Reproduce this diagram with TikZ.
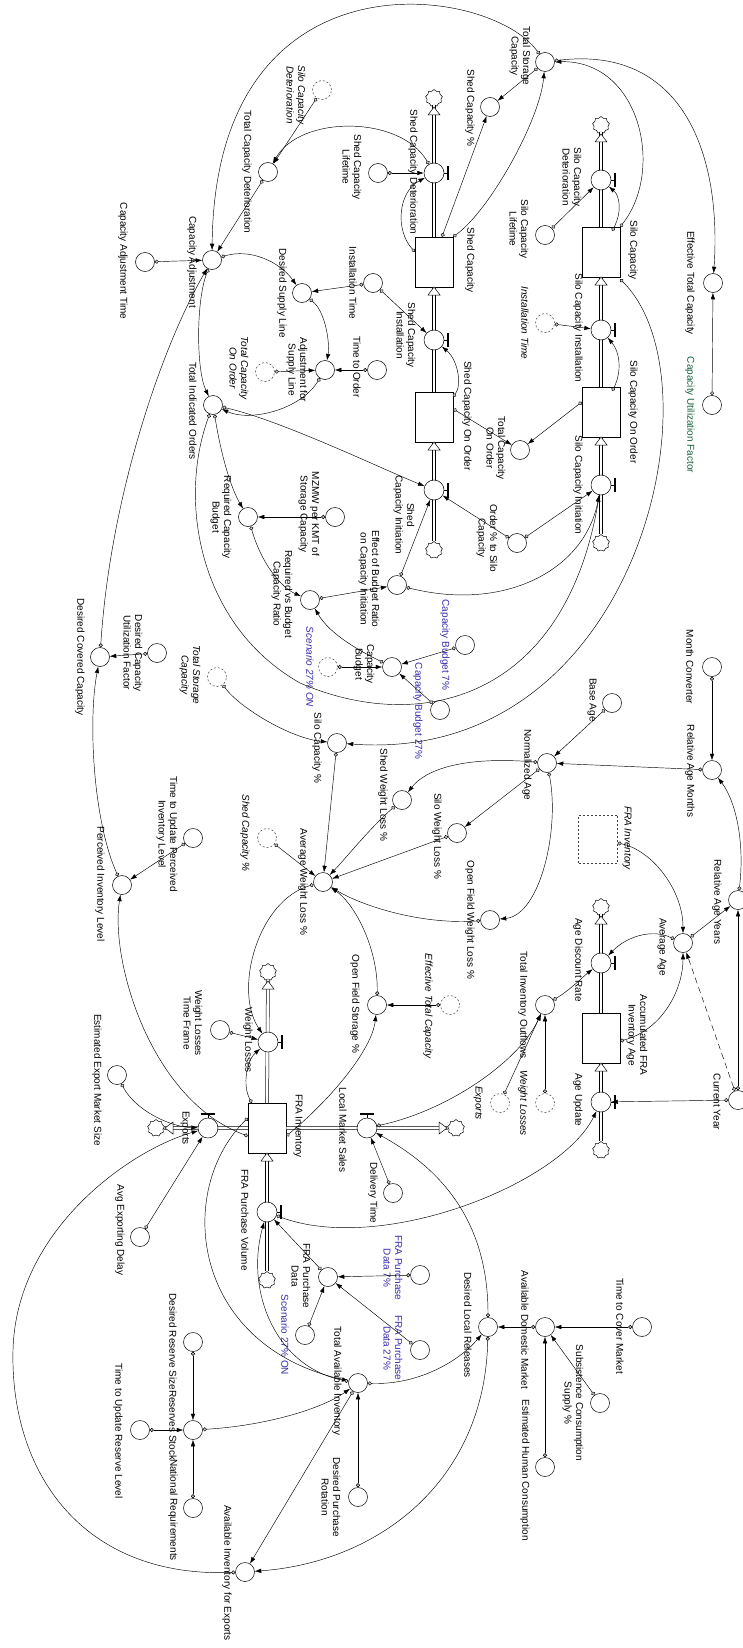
\documentclass[tikz,border=0pt]{standalone}
\usepackage{fontspec}
\setmainfont{Liberation Sans}
\usetikzlibrary{arrows.meta,shapes.symbols,backgrounds,calc}
\definecolor{lblue}{RGB}{55,45,170}
\definecolor{lgreen}{RGB}{20,100,60}
\newcommand{\lblfont}{\fontsize{10}{11.5}\selectfont}
\tikzset{
 aux/.style={circle,draw,minimum size=19pt,inner sep=0pt,fill=white,line width=0.5pt},
 shd/.style={circle,draw=black!75,dashed,dash pattern=on 2pt off 2pt,minimum size=19pt,inner sep=0pt,fill=white,line width=0.5pt},
 valve/.style={circle,draw,minimum size=20pt,inner sep=0pt,fill=white,line width=0.5pt},
 stock/.style={rectangle,draw,minimum width=38pt,minimum height=50pt,inner sep=0pt,fill=white,line width=0.5pt},
 cld/.style={cloud,cloud puffs=9,draw,minimum width=17pt,minimum height=17pt,aspect=1,inner sep=0pt,fill=white,line width=0.5pt},
 lbl/.style={rotate=-90,align=center,font=\lblfont,inner sep=0pt},
 bl/.style={lbl,text=lblue},
 it/.style={lbl,font=\lblfont\itshape},
 lnk/.style={{Circle[length=4pt,width=4pt,fill=gray!45]}-{Latex[length=6.5pt,width=4.5pt]},line width=0.45pt},
 pipe/.style={draw,double=white,double distance=2.6pt,line width=0.5pt},
 harrow/.pic={\draw[fill=white,line width=0.5pt] (0,0) -- (-8,-6) -- (-8,6) -- cycle;},
 vhandle/.pic={\draw[line width=0.5pt] (10,0) -- (13,0); \draw[line width=1.6pt] (14,-7) -- (14,7);},
 hhandle/.pic={\draw[line width=0.5pt] (0,-10) -- (0,-13); \draw[line width=1.6pt] (-7,-14) -- (7,-14);},
}
\begin{document}
\begin{tikzpicture}[x=1pt,y=-1pt]
\useasboundingbox[fill=white] (0,0) rectangle (743,1648);
% ---------------- stocks and clouds
\node[stock] (shedcap) at (434,262) {};
\node[stock] (shedoo) at (434,417) {};
\node[stock] (silocap) at (601,252) {};
\node[stock] (silooo) at (601,412) {};
\node[stock] (frainv) at (267,1128) {};
\node[stock] (afia) at (601,1038) {};
\node[cld] (c1) at (434,98) {};
\node[cld] (c2) at (434,550) {};
\node[cld] (c3) at (601,125) {};
\node[cld] (c4) at (601,543) {};
\node[cld] (c5) at (268,972) {};
\node[cld] (c6) at (456,1128) {};
\node[cld] (c7) at (156,1128) {};
\node[cld] (c8) at (267,1280) {};
\node[cld] (c9) at (601,907) {};
\node[cld] (c10) at (601,1150) {};
% ---------------- pipes
\draw[pipe] (shedcap.north) -- (c1.south);
\draw[pipe] (shedoo.north) -- (shedcap.south);
\draw[pipe] (c2.north) -- (shedoo.south);
\draw[pipe] (silocap.north) -- (c3.south);
\draw[pipe] (silooo.north) -- (silocap.south);
\draw[pipe] (c4.north) -- (silooo.south);
\draw[pipe] (frainv.north) -- (c5.south);
\draw[pipe] (frainv.east) -- (c6.west);
\draw[pipe] (frainv.west) -- (c7.east);
\draw[pipe] (c8.north) -- (frainv.south);
\draw[pipe] (afia.north) -- (c9.south);
\draw[pipe] (c10.north) -- (afia.south);
\pic[rotate=90] at (434,107) {harrow};
\pic[rotate=90] at (434,287) {harrow};
\pic[rotate=90] at (434,442) {harrow};
\pic[rotate=90] at (601,134) {harrow};
\pic[rotate=90] at (601,277) {harrow};
\pic[rotate=90] at (601,437) {harrow};
\pic[rotate=90] at (268,981) {harrow};
\pic at (447,1128) {harrow};
\pic[rotate=180] at (165,1128) {harrow};
\pic[rotate=90] at (267,1153) {harrow};
\pic[rotate=90] at (601,916) {harrow};
\pic[rotate=90] at (601,1063) {harrow};
% ---------------- valves
\node[valve] (vsheddet) at (434,173) {}; \pic at (434,173) {vhandle};
\node[valve] (vshedinst) at (434,340) {}; \pic at (434,340) {vhandle};
\node[valve] (vshedinit) at (434,490) {}; \pic at (434,490) {vhandle};
\node[valve] (vsilodet) at (601,180) {}; \pic at (601,180) {vhandle};
\node[valve] (vsiloinst) at (601,330) {}; \pic at (601,330) {vhandle};
\node[valve] (vsiloinit) at (601,485) {}; \pic at (601,485) {vhandle};
\node[valve] (vwl) at (268,1042) {}; \pic at (268,1042) {vhandle};
\node[valve] (vlms) at (367,1128) {}; \pic at (367,1128) {hhandle};
\node[valve] (vexp) at (208,1128) {}; \pic at (208,1128) {hhandle};
\node[valve] (vfrapv) at (267,1212) {}; \pic at (267,1212) {vhandle};
\node[valve] (vadr) at (601,963) {}; \pic at (601,963) {vhandle};
\node[valve] (vau) at (601,1102) {}; \pic at (601,1102) {vhandle};
% ---------------- auxiliaries
\node[aux] (tsc) at (545,62) {};
\node[aux] (shedpct) at (490,107) {};
\node[aux] (etc) at (713,283) {};
\node[aux] (cuf) at (712,405) {};
\node[aux] (tcd) at (268,172) {};
\node[shd] (silodetsh) at (322,90) {};
\node[aux] (scl) at (378,173) {};
\node[aux] (capadj) at (212,260) {};
\node[aux] (cat) at (145,262) {};
\node[aux] (inst) at (373,283) {};
\node[aux] (dsl) at (302,293) {};
\node[aux] (afsl) at (325,370) {};
\node[aux] (tto) at (377,370) {};
\node[shd] (tcoosh) at (265,372) {};
\node[aux] (tio) at (213,405) {};
\node[aux] (tcoo) at (520,450) {};
\node[aux] (ordpct) at (517,543) {};
\node[aux] (silolife) at (545,235) {};
\node[shd] (instsh) at (545,323) {};
\node[aux] (rcb) at (248,517) {};
\node[aux] (mzmw) at (335,517) {};
\node[aux] (rvb) at (310,600) {};
\node[aux] (ebr) at (397,585) {};
\node[aux] (cb) at (392,667) {};
\node[aux] (cbs) at (465,645) {};
\node[aux] (cbt) at (440,710) {};
\node[shd] (scena) at (328,667) {};
\node[shd] (tscsh) at (217,677) {};
\node[aux] (silopct) at (337,743) {};
\node[aux] (dcuf) at (157,653) {};
\node[aux] (dcc) at (100,657) {};
\node[aux] (tup) at (193,838) {};
\node[aux] (pil) at (122,885) {};
\node[aux] (shedwl) at (402,800) {};
\node[aux] (silowl) at (457,833) {};
\node[shd] (shedpctsh) at (267,838) {};
\node[aux] (awl) at (323,882) {};
\node[aux] (ofwl) at (490,920) {};
\node[aux] (ofs) at (377,1005) {};
\node[shd] (etcsh) at (450,1005) {};
\node[aux] (monthc) at (712,667) {};
\node[aux] (ram) at (712,770) {};
\node[aux] (baseage) at (612,703) {};
\node[aux] (normage) at (547,763) {};
\node[rectangle,draw=black!75,dashed,dash pattern=on 2pt off 2pt,minimum width=39pt,minimum height=48pt,inner sep=0pt] (frainvsh) at (598,839) {};
\node[aux] (avgage) at (683,943) {};
\node[aux] (ray) at (738,900) {};
\node[aux] (curyear) at (738,1100) {};
\node[aux] (tio2) at (545,1005) {};
\node[shd] (expsh) at (500,1103) {};
\node[shd] (wlsh) at (545,1103) {};
\node[aux] (wltf) at (220,1030) {};
\node[aux] (eems) at (117,1075) {};
\node[aux] (aed) at (140,1237) {};
\node[aux] (dt) at (393,1193) {};
\node[aux] (frapd) at (328,1277) {};
\node[aux] (frapds) at (420,1275) {};
\node[aux] (frapdt) at (420,1350) {};
\node[aux] (scenb) at (305,1335) {};
\node[aux] (tai) at (358,1383) {};
\node[aux] (dlr) at (488,1327) {};
\node[aux] (dpr) at (358,1497) {};
\node[aux] (adm) at (545,1327) {};
\node[aux] (tcm) at (642,1327) {};
\node[aux] (scs) at (600,1403) {};
\node[aux] (ehc) at (545,1467) {};
\node[aux] (drs) at (193,1342) {};
\node[aux] (rs) at (193,1430) {};
\node[aux] (nr) at (193,1508) {};
\node[aux] (turl) at (140,1430) {};
\node[aux] (aie) at (245,1572) {};
% ---------------- labels
\node[lbl] (t1) at (520,56) {Total Storage\\Capacity};
\node[lbl] (t2) at (470,108) {Shed Capacity \%};
\node[lbl] (t3) at (690,283) {Effective Total Capacity};
\node[lbl,text=lgreen] (t4) at (690,415) {Capacity Utilization Factor};
\node[lbl] (t5) at (247,172) {Total Capacity Deterioration};
\node[it] (t6) at (296,95) {Silo Capacity\\Deterioration};
\node[lbl] (t7) at (352,167) {Shed Capacity\\Lifetime};
\node[lbl] (t8) at (192,262) {Capacity Adjustment};
\node[lbl] (t9) at (123,261) {Capacity Adjustment Time};
\node[lbl] (t10) at (353,283) {Installation Time};
\node[lbl] (t11) at (282,293) {Desired Supply Line};
\node[lbl] (t12) at (297,370) {Adjustment for\\Supply Line};
\node[lbl] (t13) at (357,367) {Time to Order};
\node[it] (t14) at (239,368) {Total Capacity\\On Order};
\node[lbl] (t15) at (193,411) {Total Indicated Orders};
\node[lbl] (t16) at (496,448) {Total Capacity\\On Order};
\node[lbl] (t17) at (487,538) {Order \% to Silo\\Capacity};
\node[lbl] (t18) at (519,229) {Silo Capacity\\Lifetime};
\node[it] (t19) at (525,323) {Installation Time};
\node[lbl] (t20) at (221,517) {Required Capacity\\Budget};
\node[lbl] (t21) at (309,514) {MZMW per KMT of\\Storage Capacity};
\node[lbl] (t22) at (282,594) {Required vs Budget\\Capacity Ratio};
\node[lbl] (t23) at (369,579) {Effect of Budget Ratio\\on Capacity Initiation};
\node[lbl] (t24) at (364,664) {Capacity\\Budget};
\node[bl] (t25) at (445,645) {Capacity Budget 7\%};
\node[bl] (t26) at (418,711) {Capacity Budget 27\%};
\node[bl,font=\lblfont\itshape] (t27) at (310,667) {Scenario 27\%  ON};
\node[it] (t28) at (190,675) {Total Storage\\Capacity};
\node[lbl] (t29) at (317,748) {Silo Capacity \%};
\node[lbl] (t30) at (133,653) {Desired Capacity\\Utilization Factor};
\node[lbl] (t31) at (80,657) {Desired Covered Capacity};
\node[lbl] (t32) at (167,834) {Time to Update Perceived\\Inventory Level};
\node[lbl] (t33) at (100,884) {Perceived Inventory Level};
\node[lbl] (t34) at (383,795) {Shed Weight Loss \%};
\node[lbl] (t35) at (437,836) {Silo Weight Loss \%};
\node[it] (t36) at (245,833) {Shed Capacity \%};
\node[lbl] (t37) at (303,882) {Average Weight Loss \%};
\node[lbl] (t38) at (470,920) {Open Field Weight Loss \%};
\node[lbl] (t39) at (355,1004) {Open Field Storage \%};
\node[it] (t40) at (428,1006) {Effective Total Capacity};
\node[lbl] (t41) at (690,667) {Month Converter};
\node[lbl] (t42) at (690,771) {Relative Age Months};
\node[lbl] (t43) at (592,700) {Base Age};
\node[lbl] (t44) at (527,765) {Normalized Age};
\node[it] (t45) at (627,838) {FRA Inventory};
\node[lbl] (t46) at (662,947) {Average Age};
\node[lbl] (t47) at (717,902) {Relative Age Years};
\node[lbl] (t48) at (717,1102) {Current Year};
\node[lbl] (t49) at (523,1005) {Total Inventory Outflows};
\node[it] (t50) at (478,1103) {Exports};
\node[it] (t51) at (523,1103) {Weight Losses};
\node[lbl] (t52) at (193,1023) {Weight Losses\\Time Frame};
\node[lbl] (t53) at (97,1080) {Estimated Export Market Size};
\node[lbl] (t54) at (120,1230) {Avg Exporting Delay};
\node[lbl] (t55) at (373,1193) {Delivery Time};
\node[lbl] (t56) at (301,1276) {FRA Purchase\\Data};
\node[bl] (t57) at (393,1268) {FRA Purchase\\Data 7\%};
\node[bl] (t58) at (393,1348) {FRA Purchase\\Data 27\%};
\node[bl] (t59) at (285,1335) {Scenario 27\%  ON};
\node[lbl] (t60) at (337,1381) {Total Available Inventory};
\node[lbl] (t61) at (468,1325) {Desired Local Releases};
\node[lbl] (t62) at (331,1497) {Desired Purchase\\Rotation};
\node[lbl] (t63) at (525,1330) {Available Domestic Market};
\node[lbl] (t64) at (620,1326) {Time to Cover Market};
\node[lbl] (t65) at (573,1403) {Subsistence Consumption\\Supply \%};
\node[lbl] (t66) at (525,1470) {Estimated Human Consumption};
\node[lbl] (t67) at (173,1342) {Desired Reserve Size};
\node[lbl] (t68) at (173,1425) {Reserves Stock};
\node[lbl] (t69) at (173,1510) {National  Requirements};
\node[lbl] (t70) at (118,1431) {Time to Update  Reserve Level};
\node[lbl] (t71) at (227,1573) {Available Inventory for Exports};
\node[lbl] (t72) at (413,172) {Shed Capacity Deterioration};
\node[lbl] (t73) at (406,335) {Shed Capacity\\Installation};
\node[lbl] (t74) at (404,515) {Shed\\Capacity Initiation};
\node[lbl] (t75) at (572,177) {Silo Capacity\\Deterioration};
\node[lbl] (t76) at (578,328) {Silo Capacity Installation};
\node[lbl] (t77) at (578,485) {Silo Capacity Initiation};
\node[lbl] (t78) at (248,1040) {Weight Losses};
\node[lbl] (t79) at (343,1130) {Local Market Sales};
\node[lbl] (t80) at (185,1128) {Exports};
\node[lbl] (t81) at (245,1220) {FRA Purchase Volume};
\node[lbl] (t82) at (578,960) {Age Discount Rate};
\node[lbl] (t83) at (578,1100) {Age Update};
\node[lbl] (t84) at (470,260) {Shed Capacity};
\node[lbl] (t85) at (467,416) {Shed Capacity On Order};
\node[lbl] (t86) at (633,250) {Silo Capacity};
\node[lbl] (t87) at (633,412) {Silo Capacity On Order};
\node[lbl] (t88) at (298,1126) {FRA Inventory};
\node[lbl] (t89) at (637,1035) {Accumulated FRA\\Inventory Age};
% ---------------- connectors
\begin{scope}[lnk]
\draw (tsc) .. controls (490,-15) and (215,-55) .. (capadj);
\draw (shedcap.north east) .. controls (490,210) and (540,120) .. (tsc);
\draw (silocap.north east) .. controls (665,170) and (640,60) .. (tsc);
\draw (tsc) .. controls (680,45) and (722,150) .. (etc);
\draw (tsc) -- (shedpct);
\draw ([xshift=8pt]shedcap.north) -- (shedpct);
\draw (cuf) -- (etc);
\draw (silodetsh) -- (tcd);
\draw (vsheddet) .. controls (400,115) and (300,115) .. (tcd);
\draw (scl) -- (vsheddet);
\draw ([yshift=-15pt]shedcap.north west) .. controls (395,230) and (398,192) .. (vsheddet);
\draw ([yshift=-4pt,xshift=-8pt]silocap.north east) .. controls (622,212) and (620,196) .. (vsilodet);
\draw ([yshift=-5pt]shedoo.north east) .. controls (462,385) and (458,360) .. (vshedinst);
\draw ([yshift=-4pt,xshift=-8pt]silooo.north east) .. controls (622,372) and (620,352) .. (vsiloinst);
\draw (silolife) -- (vsilodet);
\draw (instsh) -- (vsiloinst);
\draw (tcd) -- (capadj);
\draw (cat) -- (capadj);
\draw (capadj) .. controls (250,248) and (280,262) .. (dsl);
\draw (capadj) .. controls (196,300) and (196,370) .. (tio);
\draw (dcc) .. controls (110,500) and (160,350) .. (capadj);
\draw (inst) -- (dsl);
\draw (inst) -- (vshedinst);
\draw (dsl) .. controls (326,312) and (330,345) .. (afsl);
\draw (tto) -- (afsl);
\draw (tcoosh) -- (afsl);
\draw (afsl) .. controls (300,410) and (250,422) .. (tio);
\draw (tio) .. controls (280,420) and (380,468) .. (vshedinit);
\draw (tio) .. controls (222,460) and (232,490) .. (rcb);
\draw (tio) .. controls (178,500) and (198,625) .. (300,683) .. controls (420,735) and (565,700) .. (vsiloinit);
\draw (mzmw) -- (rcb);
\draw (rcb) .. controls (262,565) and (282,588) .. (rvb);
\draw (rvb) -- (ebr);
\draw (ebr) -- (vshedinit);
\draw (ebr) .. controls (505,612) and (585,570) .. (vsiloinit);
\draw (cb) .. controls (362,652) and (330,635) .. (rvb);
\draw (cbs) -- (cb);
\draw (cbt) -- (cb);
\draw (scena) -- (cb);
\draw (ordpct) -- (vshedinit);
\draw (ordpct) -- (vsiloinit);
\draw ([yshift=8pt]shedoo.east) -- (tcoo);
\draw ([yshift=10pt]silooo.west) -- (tcoo);
\draw ([yshift=-2pt]silocap.south east) .. controls (722,380) and (640,765) .. (silopct);
\draw (tscsh) .. controls (240,708) and (290,738) .. (silopct);
\draw (silopct) -- (awl);
\draw (normage) .. controls (462,756) and (425,770) .. (shedwl);
\draw (normage) -- (silowl);
\draw (normage) .. controls (560,830) and (540,915) .. (ofwl);
\draw (baseage) -- (normage);
\draw (ram) -- (normage);
\draw (monthc) -- (ram);
\draw (ray) .. controls (745,840) and (735,800) .. (ram);
\draw (shedwl) .. controls (370,828) and (346,858) .. (awl);
\draw (silowl) -- (awl);
\draw (shedpctsh) -- (awl);
\draw (ofwl) .. controls (420,925) and (360,905) .. (awl);
\draw (etcsh) -- (ofs);
\draw (ofs) .. controls (378,950) and (356,905) .. (awl);
\draw ([yshift=-8pt]frainv.east) .. controls (330,1100) and (372,1050) .. (ofs);
\draw (awl) .. controls (258,900) and (233,990) .. (vwl);
\draw (wltf) -- (vwl);
\draw ([xshift=4pt]frainv.north west) .. controls (242,1085) and (247,1060) .. (vwl);
\draw ([yshift=-8pt]frainv.west) .. controls (150,1100) and (110,960) .. (pil);
\draw (tup) -- (pil);
\draw (pil) .. controls (93,820) and (88,720) .. (dcc);
\draw (dcuf) -- (dcc);
\draw (eems) .. controls (135,1110) and (170,1127) .. (vexp);
\draw (aed) -- (vexp);
\draw (aie) .. controls (80,1578) and (10,1470) .. (13,1350) .. controls (16,1230) and (130,1150) .. (vexp);
\draw ([yshift=10pt]frainv.west) .. controls (175,1190) and (190,1345) .. (tai);
\draw (tai) .. controls (275,1368) and (245,1290) .. (vfrapv);
\draw (rs) .. controls (262,1426) and (320,1410) .. (tai);
\draw (drs) -- (rs);
\draw (turl) -- (rs);
\draw (nr) -- (rs);
\draw (frapd) -- (vfrapv);
\draw (frapds) -- (frapd);
\draw (frapdt) -- (frapd);
\draw (scenb) -- (frapd);
\draw (tai) .. controls (420,1385) and (460,1360) .. (dlr);
\draw (dpr) -- (tai);
\draw (tai) -- (aie);
\draw (dlr) .. controls (485,1480) and (380,1562) .. (aie);
\draw (dlr) .. controls (488,1220) and (440,1168) .. (vlms);
\draw (adm) -- (dlr);
\draw (tcm) -- (adm);
\draw (scs) -- (adm);
\draw (ehc) -- (adm);
\draw (dt) -- (vlms);
\draw (vlms) .. controls (450,1110) and (520,1060) .. (tio2);
\draw (expsh) -- (tio2);
\draw (wlsh) -- (tio2);
\draw (tio2) .. controls (570,990) and (585,975) .. (vadr);
\draw (frainvsh) .. controls (652,850) and (683,890) .. (avgage);
\draw ([yshift=-3pt]afia.east) .. controls (662,1030) and (683,990) .. (avgage);
\draw (avgage) .. controls (650,928) and (625,938) .. (vadr);
\draw (avgage) -- (ray);
\draw (curyear) -- (ray);
\draw (curyear) -- (vau);
\draw[dash pattern=on 6pt off 4pt] (curyear) -- (avgage);
\draw (vfrapv) .. controls (380,1255) and (560,1185) .. (vau);
\end{scope}
\end{tikzpicture}
\end{document}
